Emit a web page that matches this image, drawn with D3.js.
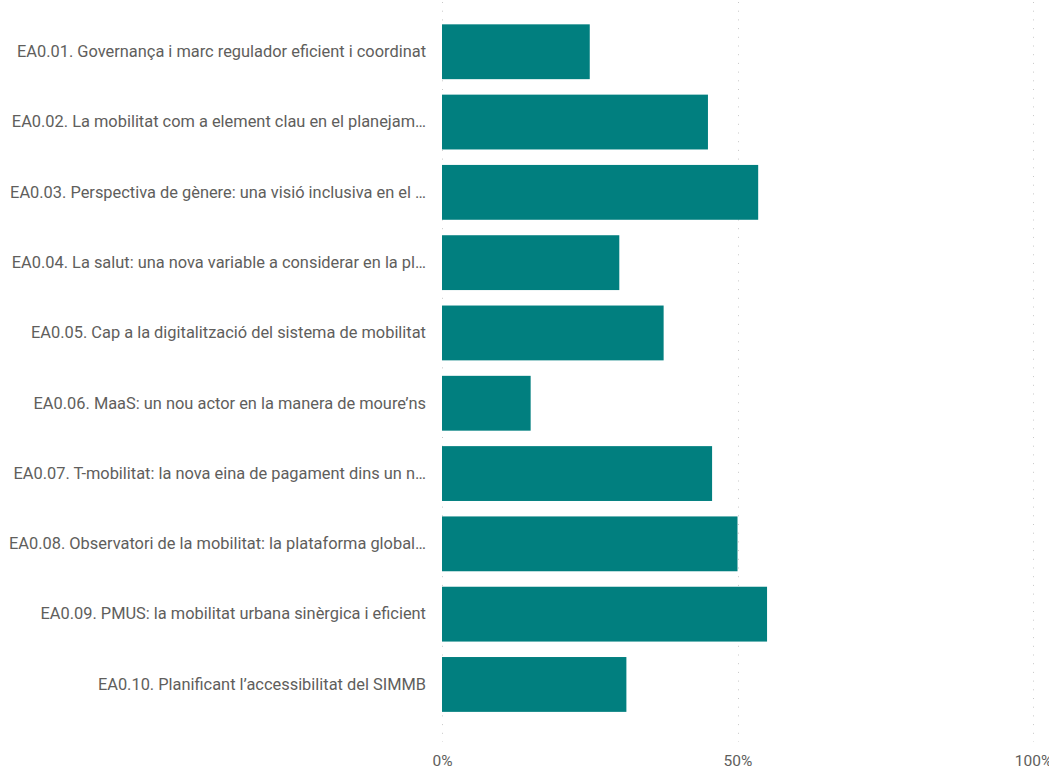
<!DOCTYPE html>
<html>
<head>
<meta charset="utf-8">
<script src="https://cdn.jsdelivr.net/npm/d3@7"></script>
<style>
  html, body { margin: 0; padding: 0; background: #ffffff; overflow: hidden; }
  svg { display: block; }
  text { font-family: "Roboto", "DejaVu Sans Condensed", sans-serif; }
</style>
</head>
<body>
<svg id="chart" width="1049" height="769"></svg>
<script>
// ---- data ----
const categories = [
  "EA0.01. Governança i marc regulador eficient i coordinat",
  "EA0.02. La mobilitat com a element clau en el planejam…",
  "EA0.03. Perspectiva de gènere: una visió inclusiva en el …",
  "EA0.04. La salut: una nova variable a considerar en la pl…",
  "EA0.05. Cap a la digitalització del sistema de mobilitat",
  "EA0.06. MaaS: un nou actor en la manera de moure’ns",
  "EA0.07. T-mobilitat: la nova eina de pagament dins un n…",
  "EA0.08. Observatori de la mobilitat: la plataforma global…",
  "EA0.09. PMUS: la mobilitat urbana sinèrgica i eficient",
  "EA0.10. Planificant l’accessibilitat del SIMMB"
];
const values = [25.0, 45.0, 53.5, 30.0, 37.5, 15.0, 45.7, 50.0, 55.0, 31.2];
const xTicks = [0, 50, 100];
const xTickLabels = ["0%", "50%", "100%"];

// ---- layout ----
const svg = d3.select("#chart");
const x0 = 442, x1 = 1033;
const yTop = 16.6, yBottom = 719.6;

const x = d3.scaleLinear().domain([0, 100]).range([x0, x1]);
const y = d3.scaleBand().domain(categories).range([yTop, yBottom])
  .paddingInner(0.22).paddingOuter(0.11);

// gridlines (dotted)
svg.append("g").selectAll("line").data(xTicks).join("line")
  .attr("x1", d => Math.round(x(d)) + 0.5)
  .attr("x2", d => Math.round(x(d)) + 0.5)
  .attr("y1", 2)
  .attr("y2", 742)
  .attr("stroke", "#c8c8c8")
  .attr("stroke-width", 1)
  .attr("stroke-dasharray", "1,7.7");

// bars
svg.append("g").selectAll("rect").data(values).join("rect")
  .attr("x", x(0))
  .attr("y", (d, i) => y(categories[i]))
  .attr("width", d => x(d) - x(0))
  .attr("height", y.bandwidth())
  .attr("fill", "#017f7f");

// y axis labels
const labelSize = 14.67;
const yAxis = d3.axisLeft(y).tickSize(0).tickPadding(0);
const gy = svg.append("g").attr("transform", "translate(426,0)").call(yAxis);
gy.select(".domain").remove();
gy.selectAll("text")
  .attr("fill", "#605e5c")
  .attr("font-size", labelSize)
  .attr("font-family", "Roboto, 'DejaVu Sans Condensed', sans-serif");
// fit the first label's width to the reference width (409px)
const firstLen = gy.select(".tick text").node().getComputedTextLength();
const fitted = labelSize * 409 / firstLen;
gy.selectAll("text").attr("font-size", fitted);

// x axis labels
const xAxis = d3.axisBottom(x).tickValues(xTicks)
  .tickFormat((d, i) => xTickLabels[i]).tickSize(0).tickPadding(0);
const gx = svg.append("g").attr("transform", "translate(0,755)").call(xAxis);
gx.select(".domain").remove();
gx.selectAll("text")
  .attr("fill", "#605e5c")
  .attr("font-size", 15.5)
  .attr("dy", "0.71em")
  .attr("font-family", "Roboto, 'DejaVu Sans Condensed', sans-serif");
</script>
</body>
</html>
